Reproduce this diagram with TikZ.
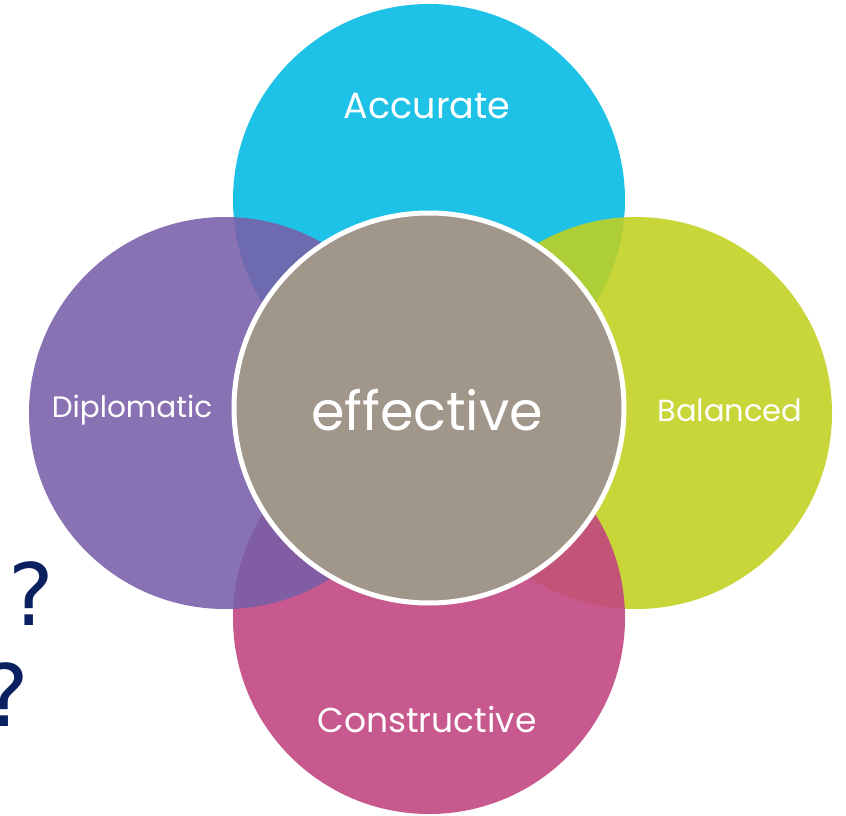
\documentclass[tikz,border=0pt]{standalone}
\usepackage{fontspec}
\setmainfont{Poppins}
\newfontfamily\qfont{DejaVu Sans}
\definecolor{cyanc}{RGB}{0,186,228}
\definecolor{greenc}{RGB}{194,208,31}
\definecolor{pinkc}{RGB}{192,66,128}
\definecolor{purplec}{RGB}{120,95,168}
\definecolor{centerc}{RGB}{161,150,138}
\definecolor{navyq}{RGB}{10,32,96}
\tikzset{
  petal/.style={circle, minimum size=392pt, inner sep=0pt, fill opacity=0.88, draw=none},
  lbl/.style={text=white, inner sep=0pt, font=\fontsize{29.5}{32}\selectfont},
  qmark/.style={text=navyq, inner sep=0pt, font=\qfont\fontsize{86}{90}\selectfont}
}
\begin{document}
\begin{tikzpicture}[x=1pt,y=-1pt]
\useasboundingbox (0,0) rectangle (846,816);
\node[petal, fill=cyanc] (top) at (429,200) {};
\node[petal, fill=greenc] (right) at (636,413) {};
\node[petal, fill=pinkc] (bottom) at (429,618) {};
\node[petal, fill=purplec] (left) at (225,413) {};
\node[circle, minimum size=390pt, inner sep=0pt, fill=centerc, draw=white, line width=5pt] (mid) at (429,408) {};
\node[lbl, font=\fontsize{36.5}{40}\selectfont] (tA) at (427,106) {Accurate};
\node[lbl] (tD) at (132,410) {Diplomatic};
\node[lbl, font=\fontsize{30.5}{34}\selectfont] (tB) at (730,410) {Balanced};
\node[lbl, font=\fontsize{34.5}{38}\selectfont] (tC) at (427,720) {Constructive};
\node[text=white, inner sep=0pt, font=\fontsize{54}{60}\selectfont] (tE) at (427,410) {effective};
\node[qmark] (q1) at (31,594) {?};
\node[qmark] (q2) at (6,695) {?};
\end{tikzpicture}
\end{document}
